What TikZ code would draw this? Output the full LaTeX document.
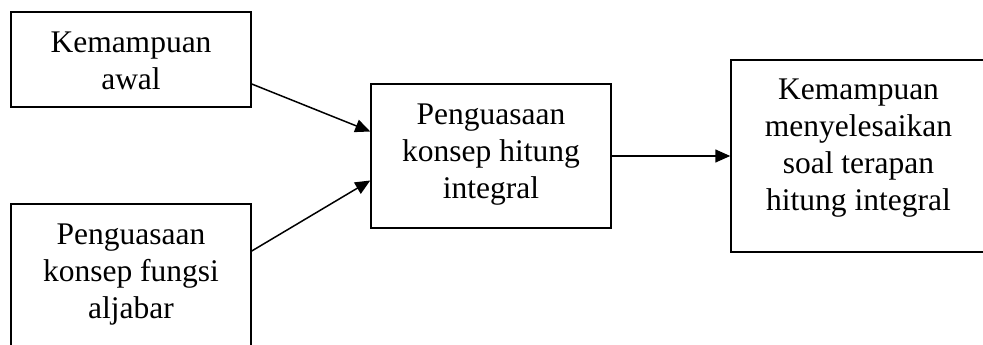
\documentclass[tikz,border=0pt]{standalone}
\usepackage{fontspec}
\setmainfont{Liberation Serif}
\usetikzlibrary{arrows.meta}
\begin{document}
\begin{tikzpicture}[x=1pt,y=-1pt,
  box/.style={draw, line width=1.5pt, inner sep=0pt, rectangle},
  txt/.style={inner sep=0pt, align=center, font=\fontsize{31.5}{36.8}\selectfont},
  arr/.style={line width=1.5pt, -{Triangle[length=15pt,width=13pt]}}]
\clip (0,0) rectangle (983,345);
\node[box, minimum width=240pt, minimum height=95pt] (b1) at (131,59.5) {};
\node[txt] (t1) at (131,61) {Kemampuan\\awal};
\node[box, minimum width=240pt, minimum height=150pt] (b2) at (131,279) {};
\node[txt] (t2) at (131,274.3) {Penguasaan\\konsep fungsi\\aljabar};
\node[box, minimum width=240pt, minimum height=144pt] (b3) at (491,156) {};
\node[txt] (t3) at (491,154.6) {Penguasaan\\konsep hitung\\integral};
\node[box, minimum width=255pt, minimum height=192pt] (b4) at (858.5,156) {};
\node[txt] (t4) at (858.5,148) {Kemampuan\\menyelesaikan\\soal terapan\\hitung integral};
\draw[arr] ([yshift=-24.5pt]b1.east) -- ([yshift=24.5pt]b3.west);
\draw[arr] ([yshift=28pt]b2.east) -- ([yshift=-24.5pt]b3.west);
\draw[arr] (b3.east) -- (b4.west);
\end{tikzpicture}
\end{document}
